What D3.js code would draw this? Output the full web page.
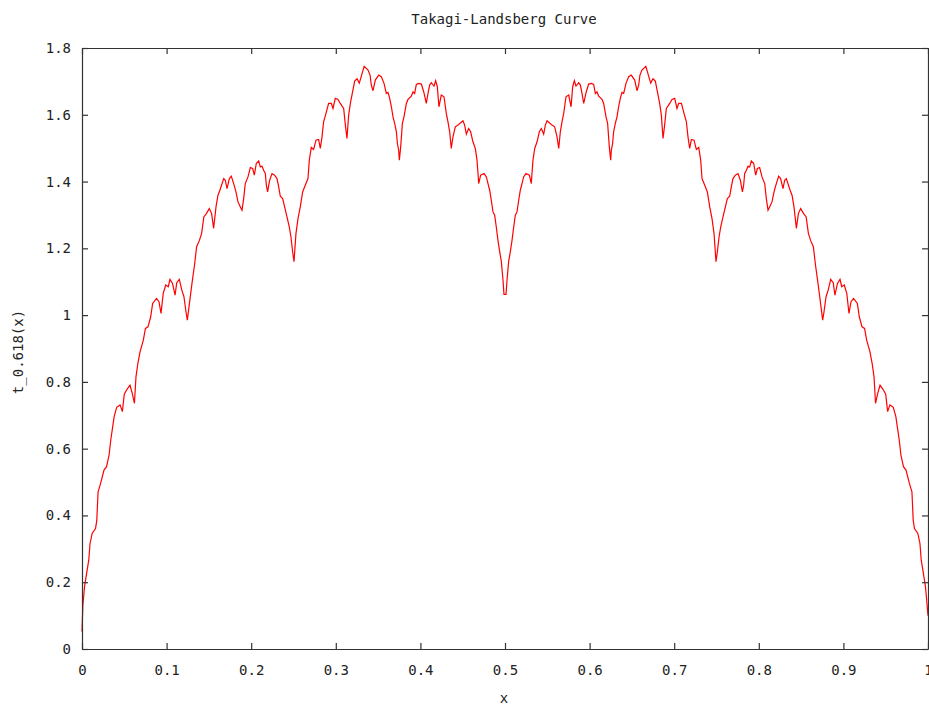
<!DOCTYPE html>
<html>
<head>
<meta charset="utf-8">
<script src="https://cdn.jsdelivr.net/npm/d3@7"></script>
<style>
  html, body { margin: 0; padding: 0; background: #fff; overflow: hidden; }
  svg { display: block; }
  text { font-family: "DejaVu Sans Mono", "Liberation Mono", monospace; fill: #222; }
</style>
</head>
<body>
<svg id="chart" width="929" height="705"></svg>
<script>
// ---- data ----
const chartTitle = "Takagi-Landsberg Curve";
const xLabel = "x";
const yLabel = "t_0.618(x)";
const xTicks = [0, 0.1, 0.2, 0.3, 0.4, 0.5, 0.6, 0.7, 0.8, 0.9, 1];
const yTicks = [0, 0.2, 0.4, 0.6, 0.8, 1, 1.2, 1.4, 1.6, 1.8];

// left half of the curve (x, t)
const leftX = [0.0000,0.0010,0.0030,0.0055,0.0080,0.0095,0.0120,0.0160,0.0175,0.0190,0.0220,0.0260,0.0290,0.0320,0.0340,0.0360,0.0380,0.0410,0.0450,0.0477,0.0500,0.0530,0.0567,0.0595,0.0620,0.0638,0.0660,0.0686,0.0725,0.0750,0.0780,0.0812,0.0835,0.0880,0.0910,0.0934,0.0960,0.0990,0.1020,0.1040,0.1070,0.1100,0.1120,0.1150,0.1180,0.1205,0.1229,0.1245,0.1270,0.1300,0.1330,0.1355,0.1387,0.1414,0.1440,0.1470,0.1505,0.1532,0.1556,0.1584,0.1607,0.1630,0.1675,0.1694,0.1714,0.1742,0.1765,0.1793,0.1820,0.1844,0.1872,0.1891,0.1911,0.1930,0.1962,0.1990,0.2017,0.2037,0.2060,0.2088,0.2108,0.2128,0.2147,0.2167,0.2179,0.2194,0.2218,0.2246,0.2277,0.2305,0.2325,0.2344,0.2372,0.2395,0.2423,0.2450,0.2470,0.2490,0.2506,0.2529,0.2553,0.2580,0.2608,0.2639,0.2671,0.2687,0.2710,0.2738,0.2766,0.2797,0.2817,0.2837,0.2856,0.2884,0.2915,0.2947,0.2967,0.2994,0.3026,0.3053,0.3093,0.3113,0.3132,0.3152,0.3172,0.3200,0.3223,0.3251,0.3278,0.3302,0.3335,0.3381,0.3405,0.3420,0.3440,0.3467,0.3507,0.3538,0.3570,0.3597,0.3617,0.3637,0.3657,0.3676,0.3696,0.3716,0.3728,0.3743,0.3751,0.3767,0.3787,0.3806,0.3834,0.3853,0.3893,0.3913,0.3932,0.3952,0.3979,0.4011,0.4039,0.4070,0.4090,0.4109,0.4129,0.4161,0.4180,0.4200,0.4219,0.4247,0.4279,0.4306,0.4326,0.4346,0.4365,0.4385,0.4413,0.4444,0.4476,0.4503,0.4523,0.4543,0.4570,0.4594,0.4621,0.4649,0.4669,0.4681,0.4689,0.4712,0.4752,0.4780,0.4799,0.4819,0.4838,0.4858,0.4878,0.4897,0.4917,0.4937,0.4957,0.4976,0.4988];
const leftY = [0.052,0.130,0.187,0.227,0.266,0.316,0.346,0.361,0.386,0.471,0.496,0.536,0.546,0.581,0.626,0.661,0.696,0.724,0.731,0.711,0.763,0.777,0.790,0.765,0.736,0.815,0.855,0.890,0.925,0.960,0.965,0.995,1.035,1.050,1.040,1.005,1.065,1.090,1.085,1.107,1.095,1.060,1.097,1.107,1.075,1.055,1.010,0.985,1.035,1.095,1.150,1.205,1.223,1.245,1.294,1.304,1.319,1.304,1.260,1.324,1.359,1.374,1.409,1.404,1.379,1.409,1.416,1.394,1.369,1.339,1.324,1.314,1.349,1.394,1.414,1.442,1.439,1.419,1.454,1.462,1.444,1.446,1.434,1.424,1.389,1.369,1.404,1.424,1.419,1.409,1.384,1.356,1.349,1.324,1.294,1.264,1.234,1.189,1.160,1.244,1.289,1.324,1.369,1.389,1.409,1.464,1.502,1.496,1.524,1.526,1.499,1.534,1.579,1.604,1.634,1.634,1.619,1.649,1.646,1.634,1.619,1.569,1.529,1.599,1.634,1.671,1.701,1.708,1.695,1.716,1.745,1.734,1.719,1.689,1.672,1.704,1.719,1.714,1.694,1.664,1.667,1.649,1.624,1.594,1.574,1.549,1.514,1.494,1.464,1.504,1.574,1.594,1.634,1.646,1.656,1.669,1.664,1.691,1.694,1.692,1.669,1.634,1.664,1.689,1.696,1.686,1.702,1.684,1.624,1.659,1.654,1.604,1.579,1.549,1.499,1.534,1.564,1.569,1.576,1.582,1.569,1.542,1.559,1.549,1.519,1.499,1.464,1.424,1.394,1.419,1.424,1.414,1.394,1.374,1.344,1.309,1.299,1.264,1.224,1.190,1.160,1.105,1.062];

// right half of the curve (x, t)
const rightX = [0.5012,0.5024,0.5043,0.5063,0.5083,0.5103,0.5122,0.5142,0.5162,0.5181,0.5201,0.5220,0.5248,0.5288,0.5311,0.5319,0.5331,0.5351,0.5379,0.5406,0.5430,0.5457,0.5477,0.5497,0.5524,0.5556,0.5587,0.5615,0.5635,0.5654,0.5674,0.5694,0.5721,0.5753,0.5781,0.5800,0.5820,0.5839,0.5871,0.5891,0.5910,0.5930,0.5961,0.5989,0.6021,0.6048,0.6068,0.6087,0.6107,0.6147,0.6166,0.6194,0.6213,0.6233,0.6249,0.6257,0.6272,0.6284,0.6304,0.6324,0.6343,0.6363,0.6383,0.6403,0.6430,0.6462,0.6493,0.6533,0.6560,0.6580,0.6595,0.6619,0.6665,0.6698,0.6722,0.6749,0.6777,0.6800,0.6828,0.6848,0.6868,0.6887,0.6907,0.6947,0.6974,0.7006,0.7033,0.7053,0.7085,0.7116,0.7144,0.7163,0.7183,0.7203,0.7234,0.7262,0.7290,0.7313,0.7329,0.7361,0.7392,0.7420,0.7447,0.7471,0.7494,0.7510,0.7530,0.7550,0.7577,0.7605,0.7628,0.7656,0.7675,0.7695,0.7723,0.7754,0.7782,0.7806,0.7821,0.7833,0.7853,0.7872,0.7892,0.7912,0.7940,0.7963,0.7983,0.8010,0.8038,0.8070,0.8089,0.8109,0.8128,0.8156,0.8180,0.8207,0.8235,0.8258,0.8286,0.8306,0.8325,0.8370,0.8393,0.8416,0.8444,0.8468,0.8495,0.8530,0.8560,0.8586,0.8613,0.8645,0.8670,0.8700,0.8730,0.8755,0.8771,0.8795,0.8820,0.8850,0.8880,0.8900,0.8930,0.8960,0.8980,0.9010,0.9040,0.9066,0.9090,0.9120,0.9165,0.9188,0.9220,0.9250,0.9275,0.9314,0.9340,0.9362,0.9380,0.9405,0.9433,0.9470,0.9500,0.9523,0.9550,0.9590,0.9620,0.9640,0.9660,0.9680,0.9710,0.9740,0.9780,0.9810,0.9825,0.9840,0.9880,0.9905,0.9920,0.9945,0.9970,0.9990,1.0000];
const rightY = [1.062,1.105,1.160,1.190,1.224,1.264,1.299,1.309,1.344,1.374,1.394,1.414,1.424,1.419,1.394,1.424,1.464,1.499,1.519,1.549,1.559,1.542,1.569,1.582,1.576,1.569,1.564,1.534,1.499,1.549,1.579,1.604,1.654,1.659,1.624,1.684,1.702,1.686,1.696,1.689,1.664,1.634,1.669,1.692,1.694,1.691,1.664,1.669,1.656,1.646,1.634,1.594,1.574,1.504,1.464,1.494,1.514,1.549,1.574,1.594,1.624,1.649,1.667,1.664,1.694,1.714,1.719,1.704,1.672,1.689,1.719,1.734,1.745,1.716,1.695,1.708,1.701,1.671,1.634,1.599,1.529,1.569,1.619,1.634,1.646,1.649,1.619,1.634,1.634,1.604,1.579,1.534,1.499,1.526,1.524,1.496,1.502,1.464,1.409,1.389,1.369,1.324,1.289,1.244,1.160,1.189,1.234,1.264,1.294,1.324,1.349,1.356,1.384,1.409,1.419,1.424,1.404,1.369,1.389,1.424,1.434,1.446,1.444,1.462,1.454,1.419,1.439,1.442,1.414,1.394,1.349,1.314,1.324,1.339,1.369,1.394,1.416,1.409,1.379,1.404,1.409,1.374,1.359,1.324,1.260,1.304,1.319,1.304,1.294,1.245,1.223,1.205,1.150,1.095,1.035,0.985,1.010,1.055,1.075,1.107,1.097,1.060,1.095,1.107,1.085,1.090,1.065,1.005,1.040,1.050,1.035,0.995,0.965,0.960,0.925,0.890,0.855,0.815,0.736,0.765,0.790,0.777,0.763,0.711,0.731,0.724,0.696,0.661,0.626,0.581,0.546,0.536,0.496,0.471,0.386,0.361,0.346,0.316,0.266,0.227,0.187,0.130,0.100];

// ---- drawing ----
const svg = d3.select("#chart");
const plotLeft = 82, plotRight = 928, plotTop = 48, plotBottom = 649;
const x = d3.scaleLinear().domain([0, 1]).range([plotLeft, plotRight]);
const y = d3.scaleLinear().domain([0, 1.8]).range([plotBottom, plotTop]);

const points = leftX.map((v, i) => [v, leftY[i]])
  .concat(rightX.map((v, i) => [v, rightY[i]]));

svg.append("path")
  .datum(points)
  .attr("fill", "none")
  .attr("stroke", "#ff0000")
  .attr("stroke-width", 1.2)
  .attr("d", d3.line().x(d => x(d[0])).y(d => y(d[1])));

const fmt = d3.format("");
const axisStyle = g => {
  g.selectAll(".domain").attr("stroke", "#333").attr("stroke-width", 1.2);
  g.selectAll(".tick line").attr("stroke", "#333").attr("stroke-width", 1.2);
  g.selectAll("text").attr("font-size", 14).attr("fill", "#222")
    .attr("font-family", '"DejaVu Sans Mono", "Liberation Mono", monospace');
};

svg.append("g").attr("transform", `translate(0,${plotBottom})`)
  .call(d3.axisBottom(x).tickValues(xTicks).tickFormat(fmt).tickSize(-6).tickSizeOuter(0).tickPadding(16))
  .call(axisStyle);
svg.append("g").attr("transform", `translate(0,${plotTop})`)
  .call(d3.axisTop(x).tickValues(xTicks).tickFormat("").tickSize(-6).tickSizeOuter(0))
  .call(axisStyle);
svg.append("g").attr("transform", `translate(${plotLeft},0)`)
  .call(d3.axisLeft(y).tickValues(yTicks).tickFormat(fmt).tickSize(-6).tickSizeOuter(0).tickPadding(11))
  .call(axisStyle);
svg.append("g").attr("transform", `translate(${plotRight},0)`)
  .call(d3.axisRight(y).tickValues(yTicks).tickFormat("").tickSize(-6).tickSizeOuter(0))
  .call(axisStyle);

svg.append("text").attr("x", 504).attr("y", 24).attr("text-anchor", "middle")
  .attr("font-size", 14).text(chartTitle);
svg.append("text").attr("x", 504).attr("y", 703).attr("text-anchor", "middle")
  .attr("font-size", 14).text(xLabel);
svg.append("text")
  .attr("transform", `translate(23,352) rotate(-90)`)
  .attr("text-anchor", "middle")
  .attr("font-size", 14).text(yLabel);
</script>
</body>
</html>
